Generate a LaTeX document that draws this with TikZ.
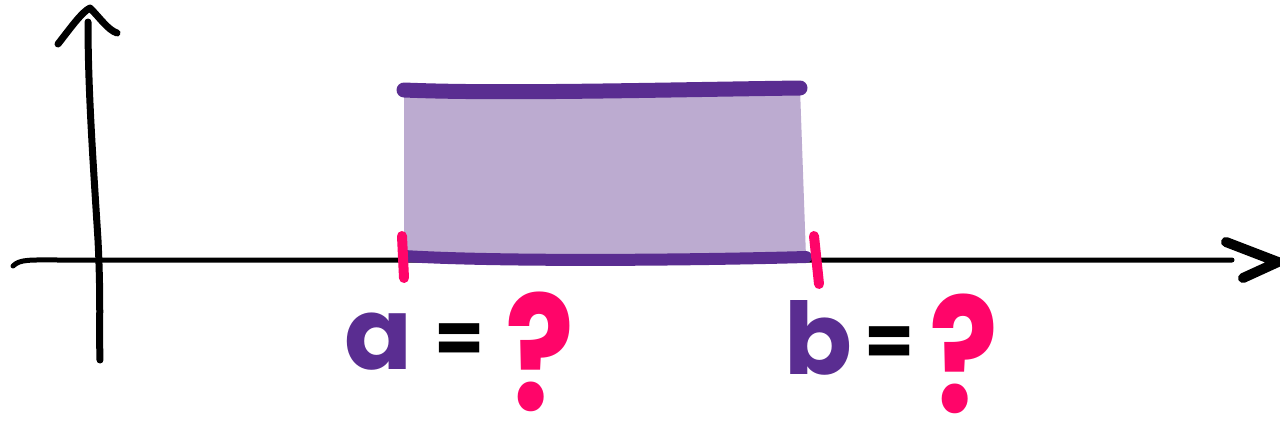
\documentclass[tikz,border=0pt]{standalone}
\usepackage{fontspec}
\setmainfont{Poppins}
\usepackage{tikz}
\usetikzlibrary{positioning}
\definecolor{purpleline}{RGB}{90, 45, 145}
\definecolor{purplefill}{RGB}{188, 171, 208}
\definecolor{pinkmark}{RGB}{255, 5, 105}

\tikzset{
  axisline/.style={line width=3pt, line cap=round, line join=round},
  edgeline/.style={purpleline, line width=7.5pt, line cap=round},
  tickmark/.style={pinkmark, line width=5pt, line cap=round},
  letter/.style={purpleline, font=\fontsize{50}{50}\selectfont\bfseries, inner sep=0pt},
  eqsign/.style={font=\fontsize{36}{36}\selectfont\bfseries, inner sep=0pt},
  qmark/.style={pinkmark, font=\fontsize{80}{80}\selectfont\bfseries, inner sep=0pt, xscale=0.8}
}

\begin{document}
\begin{tikzpicture}[x=0.5pt, y=-0.5pt]
\useasboundingbox (0,0) rectangle (1280,434);
% axes
\coordinate (xstart) at (13,266);
\coordinate (xend) at (1232,260);
\coordinate (ybottom) at (100,360);
\coordinate (ytop) at (88,22);
\draw[axisline, line width=2.5pt] (xstart) .. controls (20,259) and (30,260) .. (60,260) -- (xend);
\draw[axisline, line width=5pt] (1226,242) -- (1278,262) -- (1243,278);
\draw[axisline, line width=3.5pt] (ybottom) .. controls (99,330) and (101,300) .. (98,240)
  .. controls (93,160) and (88,90) .. (ytop);
\draw[axisline, line width=3.5pt] (58,44) .. controls (72,26) and (82,12) .. (90,8) .. controls (100,18) and (108,30) .. (117,33);
% shaded area
\coordinate (tl) at (404,90);
\coordinate (tr) at (800,88);
\coordinate (br) at (806,257);
\coordinate (bl) at (404,256);
\fill[purplefill] (tl) -- (tr) -- (br) -- (bl) -- cycle;
\draw[edgeline] (tl) .. controls (500,94) and (650,90) .. (tr);
\draw[edgeline, line width=6pt] (bl) .. controls (500,262) and (700,260) .. (br);
% end points
\coordinate (aup) at (402,236);
\coordinate (adown) at (404,278);
\coordinate (bup) at (814,236);
\coordinate (bdown) at (819,284);
\draw[tickmark] (aup) -- (adown);
\draw[tickmark] (bup) -- (bdown);
% labels
\node[letter] (a) at (378,342) {a};
\node[eqsign] (aeq) at (460,344) {=};
\node[qmark] (aq) at (540,352) {?};
\node[letter] (b) at (818,338) {b};
\node[eqsign] (beq) at (890,347) {=};
\node[qmark] (bq) at (964,354) {?};
\end{tikzpicture}
\end{document}
